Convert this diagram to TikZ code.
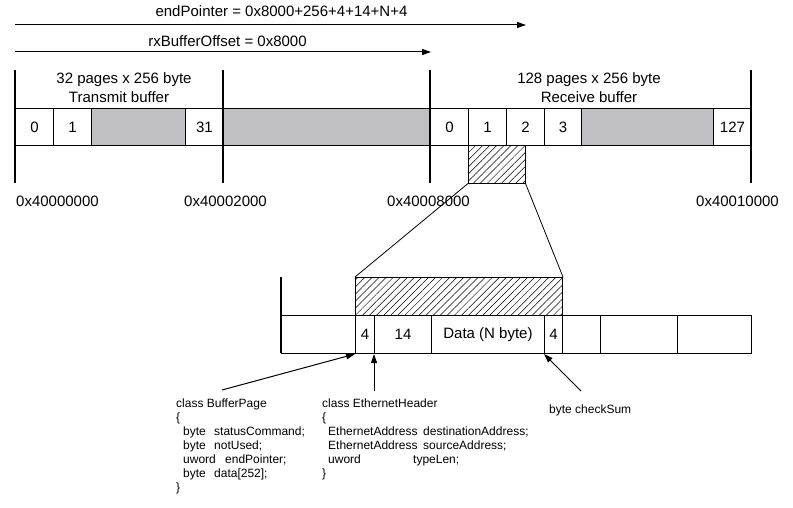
\documentclass[tikz,border=0pt]{standalone}
\usepackage{fontspec}
\setmainfont{Liberation Sans}
\usetikzlibrary{patterns.meta,arrows.meta}
\definecolor{cellgray}{RGB}{192,192,196}
\begin{document}
\begin{tikzpicture}[x=1pt,y=-1pt,
  bigfont/.style={font=\fontsize{15}{18}\selectfont},
  cell/.style={draw,line width=1pt,anchor=north west,inner sep=0pt,minimum height=37pt,bigfont},
  graycell/.style={cell,fill=cellgray},
  hatchbox/.style={draw,line width=1pt,anchor=north west,inner sep=0pt,minimum height=38pt,
     pattern={Lines[angle=45,distance=5pt,line width=0.5pt]}},
  lbl/.style={anchor=base,inner sep=0pt,bigfont},
  code/.style={anchor=base west,inner sep=0pt,font=\fontsize{12}{14}\selectfont},
  bar/.style={line width=2.6pt},
  ptr/.style={line width=1pt,-{Triangle[length=9pt,width=6pt]}},
  thinline/.style={line width=0.8pt}
]
\fill[white] (0,0) rectangle (793,508);
\useasboundingbox (0,0) rectangle (793,508);

% top pointer arrows
\coordinate (epS) at (15,25);
\coordinate (epE) at (526,25);
\coordinate (rxS) at (15,52);
\coordinate (rxE) at (431,52);
\draw[ptr] (epS) -- (epE);
\draw[ptr] (rxS) -- (rxE);
\node[lbl] (eptxt) at (281.5,17) {endPointer = 0x8000+256+4+14+N+4};
\node[lbl] (rxtxt) at (227.5,46.7) {rxBufferOffset = 0x8000};

% buffer labels
\node[lbl] (tx1) at (124,84) {32 pages x 256 byte};
\node[lbl] (tx2) at (119,103) {Transmit buffer};
\node[lbl] (rx1) at (589,84) {128 pages x 256 byte};
\node[lbl] (rx2) at (589,103) {Receive buffer};

% top memory strip
\node[cell,minimum width=38pt] (t0) at (15,108) {0};
\node[cell,minimum width=38pt] (t1) at (53,108) {1};
\node[graycell,minimum width=94pt] (tg) at (91,108) {};
\node[cell,minimum width=38pt] (t31) at (185,108) {31};
\node[graycell,minimum width=207pt] (mg) at (223,108) {};
\node[cell,minimum width=38pt] (r0) at (430,108) {0};
\node[cell,minimum width=38pt] (r1) at (468,108) {1};
\node[cell,minimum width=38pt] (r2) at (506,108) {2};
\node[cell,minimum width=37pt] (r3) at (544,108) {3};
\node[graycell,minimum width=132pt] (rg) at (581,108) {};
\node[cell,minimum width=38pt] (r127) at (713,108) {127};

% hatched page
\node[hatchbox,minimum width=57pt] (h1) at (468,145) {};

% address bars
\draw[bar] (15,70) -- (15,183);
\draw[bar] (223,70) -- (223,183);
\draw[bar] (430,70) -- (430,183);
\draw[bar] (751,70) -- (751,183);

\node[lbl] (a1) at (57.5,207) {0x40000000};
\node[lbl] (a2) at (225.5,207) {0x40002000};
\node[lbl] (a3) at (428.5,207) {0x40008000};
\node[lbl] (a4) at (737.5,207) {0x40010000};

% zoomed page
\node[hatchbox,minimum width=207pt] (h2) at (355,277) {};
\draw[thinline] (h1.south west) -- (h2.north west);
\draw[thinline] (h1.south east) -- (h2.north east);

\node[cell,minimum height=38pt,minimum width=74pt] (c0) at (281,315) {};
\node[cell,minimum height=38pt,minimum width=19pt] (c4) at (355,315) {4};
\node[cell,minimum height=38pt,minimum width=57pt] (c14) at (374,315) {14};
\node[cell,minimum height=38pt,minimum width=113pt] (cdata) at (431,315) {Data (N byte)};
\node[cell,minimum height=38pt,minimum width=18pt] (cchk) at (544,315) {4};
\node[cell,minimum height=38pt,minimum width=38pt] (e1) at (562,315) {};
\node[cell,minimum height=38pt,minimum width=77pt] (e2) at (600,315) {};
\node[cell,minimum height=38pt,minimum width=74pt] (e3) at (677,315) {};
\draw[bar] (281,277) -- (281,353);

% pointers to fields
\coordinate (bpS) at (222,390);
\coordinate (ehS) at (374,391);
\coordinate (csS) at (581,391);
\draw[ptr] (bpS) -- (c4.south west);
\draw[ptr] (ehS) -- (c14.south west);
\draw[ptr] (csS) -- (cchk.south west);

% class BufferPage
\node[code] (bp0) at (176,407.5) {class BufferPage};
\node[code] (bp1) at (176,421.5) {\{};
\node[code] (bp2a) at (183,435.5) {byte};
\node[code] (bp2b) at (214,435.5) {statusCommand;};
\node[code] (bp3a) at (183,449.5) {byte};
\node[code] (bp3b) at (214,449.5) {notUsed;};
\node[code] (bp4a) at (183,463.5) {uword};
\node[code] (bp4b) at (225,463.5) {endPointer;};
\node[code] (bp5a) at (183,477.5) {byte};
\node[code] (bp5b) at (214,477.5) {data[252];};
\node[code] (bp6) at (176,491.5) {\}};

% class EthernetHeader
\node[code] (eh0) at (322,407.5) {class EthernetHeader};
\node[code] (eh1) at (322,421.5) {\{};
\node[code] (eh2a) at (328,435.5) {EthernetAddress};
\node[code] (eh2b) at (423,435.5) {destinationAddress;};
\node[code] (eh3a) at (328,449.5) {EthernetAddress};
\node[code] (eh3b) at (423,449.5) {sourceAddress;};
\node[code] (eh4a) at (328,463.5) {uword};
\node[code] (eh4b) at (413,463.5) {typeLen;};
\node[code] (eh5) at (322,477.5) {\}};

% checksum
\node[code] (cs) at (549,413) {byte checkSum};
\end{tikzpicture}
\end{document}
